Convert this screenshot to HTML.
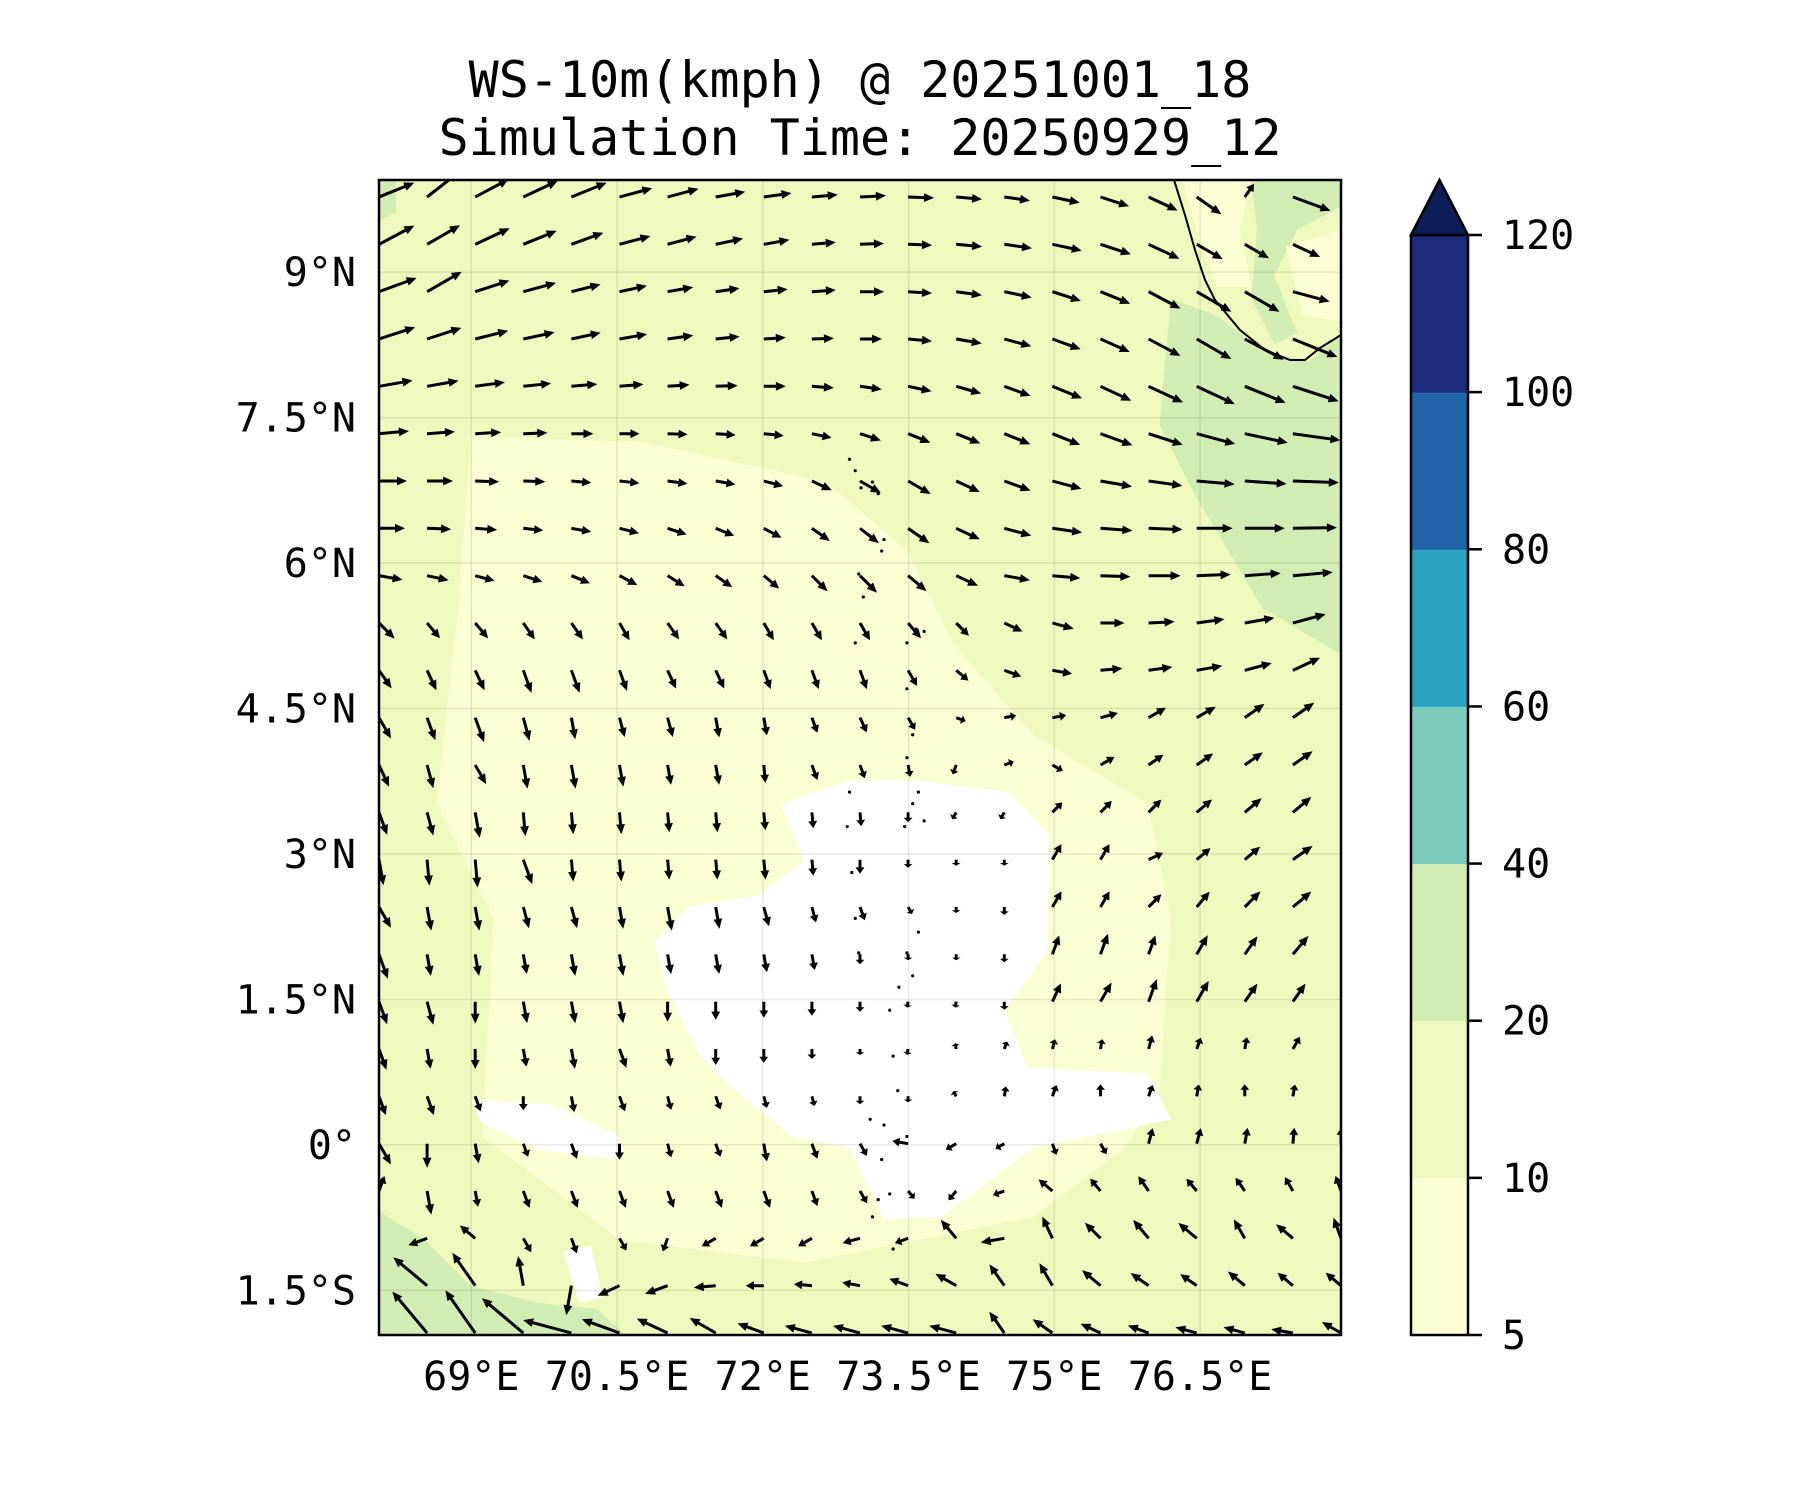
<!DOCTYPE html>
<html><head><meta charset="utf-8"><style>
html,body{margin:0;padding:0;background:#fff;}
svg{display:block;}
text{font-family:"DejaVu Sans Mono","Liberation Mono",monospace;fill:#000;}
</style></head><body>
<svg id="chart" width="1800" height="1500" viewBox="0 0 1800 1500" xmlns="http://www.w3.org/2000/svg">
<rect width="1800" height="1500" fill="#fff"/>
<text x="860" y="97" font-size="50" text-anchor="middle">WS-10m(kmph) @ 20251001_18</text>
<text x="860" y="155" font-size="50" text-anchor="middle">Simulation Time: 20250929_12</text>
<defs><clipPath id="axclip"><rect x="379" y="180" width="962" height="1155"/></clipPath></defs>
<g id="map" clip-path="url(#axclip)">
<rect x="379" y="180" width="962" height="1155" fill="#f0f9bd"/>
<g transform="scale(1.148)">
<path fill="#fbfdd2" d="M410,380 L560,385 L720,420 L790,480 L830,560 L900,640 L1000,700 L1020,800 L1010,950 L980,1000 L900,1060 L700,1100 L540,1080 L420,990 L430,800 L380,700 L400,520 Z"/>
<path fill="#ffffff" d="M680,700 L740,680 L800,680 L880,690 L915,730 L912,830 L875,880 L895,930 L1000,935 L1020,975 L900,1000 L820,1060 L770,1062 L740,1000 L690,990 L640,950 L610,920 L580,860 L570,820 L600,790 L660,780 L700,750 Z"/>
<path fill="#ffffff" d="M410,958 L480,962 L540,990 L535,1010 L470,1002 L420,978 Z"/>
<path fill="#ffffff" d="M490,1090 L515,1085 L525,1130 L505,1135 Z"/>
<path fill="#d2edb3" d="M1020,260 L1060,275 L1100,305 L1140,315 L1168,290 L1168,570 L1100,530 L1070,480 L1040,430 L1010,370 Z"/>
<path fill="#d2edb3" d="M1090,157 L1168,157 L1168,180 L1130,200 L1110,240 L1130,290 L1110,300 L1090,260 L1095,200 Z"/>
<path fill="#fbfdd2" d="M1030,157 L1090,157 L1080,200 L1090,250 L1060,250 L1045,210 Z"/>
<path fill="#fbfdd2" d="M1120,215 L1168,200 L1168,280 L1135,275 Z"/>
<path fill="#d2edb3" d="M330,1055 L370,1080 L410,1120 L470,1135 L520,1140 L545,1163 L330,1163 Z"/>
<path fill="#d2edb3" d="M330,157 L345,157 L345,185 L330,192 Z"/>
</g>
<path fill="none" stroke="#000" stroke-width="2" d="M1174,180 L1185,215 L1195,250 L1205,280 L1215,300 L1240,330 L1265,350 L1290,360 L1305,360 L1320,348 L1341,335"/>
<g id="grid"></g>
<g id="islands"></g>
<g id="arrows"></g>
</g>
<rect x="379" y="180" width="962" height="1155" fill="none" stroke="#000" stroke-width="2.5"/>
<g id="yticks"></g>
<g id="xticks"></g>
<g id="cbar"></g>
</svg>
<script>
const latLabels = ["9°N","7.5°N","6°N","4.5°N","3°N","1.5°N","0°","1.5°S"];
const latValues = [9,7.5,6,4.5,3,1.5,0,-1.5];
const lonLabels = ["69°E","70.5°E","72°E","73.5°E","75°E","76.5°E"];
const lonValues = [69,70.5,72,73.5,75,76.5];
const cbLevels = [5,10,20,40,60,80,100,120];
const cbColors = ["#fbfdd2","#f0f9bd","#d2edb3","#7ccabc","#2ca2c2","#2163a8","#1d2c7f"];
const cbExtColor = "#0b1e58";
// wind direction (deg, 0=east, ccw) per grid row (top to bottom), 21 columns each
const windDir = [
[22,38,28,25,22,15,15,10,8,5,3,-2,-5,-8,-12,-18,-25,-35,55,-20,-10],
[28,30,25,22,20,15,15,12,10,5,2,-2,-5,-8,-12,-18,-25,-30,-30,-25,-20],
[20,30,18,15,14,12,10,8,6,4,0,-4,-8,-12,-18,-22,-28,-30,-30,-15,-10],
[18,18,14,12,12,10,8,6,4,2,0,-5,-10,-15,-20,-24,-28,-30,-28,-22,-10],
[10,10,8,6,5,5,4,2,0,-4,-8,-12,-16,-20,-22,-25,-25,-25,-22,-18,-10],
[5,4,3,2,0,0,-2,-4,-6,-12,-18,-22,-22,-22,-22,-20,-18,-15,-12,-8,-5],
[0,0,-2,-2,-5,-6,-8,-10,-15,-25,-30,-30,-25,-20,-15,-10,-8,-5,-4,-2,0],
[0,-2,-4,-6,-10,-14,-18,-22,-28,-35,-38,-35,-25,-15,-8,-4,-2,0,0,1,2],
[-10,-12,-15,-18,-22,-28,-32,-35,-40,-45,-45,-40,-25,-10,-5,-2,0,2,4,5,8],
[-45,-50,-50,-55,-55,-60,-55,-55,-60,-60,-60,-50,-45,-25,-15,0,3,8,10,15,20],
[-55,-65,-65,-70,-70,-70,-65,-65,-70,-70,-70,-60,-40,-20,-10,5,8,10,15,25,30],
[-60,-70,-70,-75,-80,-75,-75,-80,-80,-70,-65,-60,-20,10,10,15,30,30,35,35,30],
[-65,-75,-60,-80,-80,-80,-80,-80,-85,-70,-70,-80,-110,20,-30,30,35,35,35,35,30],
[-70,-75,-80,-85,-85,-85,-85,-85,-85,-85,-85,-90,-120,-120,45,45,45,40,40,40,40],
[-80,-85,-85,-70,-85,-85,-85,-85,-85,-85,-90,-90,-90,-90,60,60,25,40,40,35,45],
[-60,-80,-80,-75,-75,-80,-80,-80,-75,-75,-70,-60,-90,-90,60,60,45,50,45,40,45],
[-70,-80,-80,-80,-80,-80,-80,-80,-80,-80,-90,-90,-90,-90,70,70,70,60,55,50,45],
[-70,-75,-90,-80,-80,-80,-90,-90,-90,-90,-90,-100,-100,-90,65,60,70,60,55,55,50],
[-70,-80,-90,-80,-80,-70,-80,-90,-90,-90,-90,-100,100,70,75,80,75,70,80,60,60],
[-70,-70,-70,-90,-80,-70,-75,-70,-75,-75,-90,-90,120,80,70,90,70,80,90,80,60],
[-60,-90,-80,-70,-70,-90,-75,-70,-80,-70,-60,170,-150,-150,-70,-60,75,75,80,85,90],
[70,-80,-80,-70,-70,-70,-70,-70,-70,-70,-60,-50,-130,-160,140,130,125,130,125,120,110],
[200,200,140,-60,-70,-60,-110,-150,-150,-150,-165,-160,130,-170,115,135,130,140,120,140,110],
[135,140,125,100,-100,-155,-160,-175,180,175,170,160,150,125,120,140,145,145,140,140,140],
[125,130,125,140,165,160,155,150,160,165,165,165,165,125,145,155,160,165,165,170,150]
];
// wind speed (kmph) per grid row
const windSpd = [
[19,20,19,19,19,17,16,15,14,13,13,13,13,13,14,15,16,15,8,20,15],
[20,19,19,18,17,16,15,14,13,12,12,12,13,14,15,16,17,15,14,15,15],
[20,20,18,17,15,14,13,12,12,12,12,12,13,14,15,16,18,20,20,19,15],
[19,18,17,16,15,14,13,12,11,11,11,12,13,14,15,16,18,20,22,24,15],
[17,16,15,14,13,12,11,11,11,11,11,12,13,14,16,17,19,21,22,24,17],
[15,14,13,12,11,10,10,10,10,10,11,12,13,14,15,17,18,20,22,24,20],
[14,13,12,11,10,10,10,10,10,11,12,13,13,14,15,16,17,19,21,23,20],
[13,12,11,10,10,10,10,10,10,11,12,13,13,14,15,16,17,18,20,22,20],
[12,11,10,10,10,10,10,10,10,11,12,12,12,13,14,15,16,17,18,20,18],
[11,10,10,10,10,10,10,10,10,10,10,10,9,10,11,12,13,14,15,17,15],
[11,11,11,12,12,11,10,10,10,10,10,9,8,9,10,11,12,13,14,15,14],
[12,12,13,12,11,10,10,10,9,8,8,7,5,6,7,9,10,11,12,13,12],
[12,12,11,12,12,11,10,10,9,8,7,6,5,5,6,8,9,10,11,12,12],
[12,12,13,12,11,11,10,10,9,8,7,5,4,4,7,8,9,10,11,12,12],
[13,13,14,13,11,11,10,10,10,8,7,4,3,3,9,9,8,9,10,12,12],
[12,12,12,11,11,11,12,11,10,8,7,4,3,4,9,9,9,10,11,12,12],
[13,11,11,10,11,11,10,10,9,8,5,3,3,4,10,11,10,11,11,12,12],
[12,12,11,11,11,11,10,9,8,7,5,3,3,4,10,11,12,12,11,11,11],
[11,10,10,9,10,10,9,8,7,5,3,3,3,4,5,5,7,6,6,7,7],
[10,10,8,7,8,8,7,7,6,5,4,3,3,5,6,6,6,6,6,6,7],
[12,12,10,7,8,8,7,7,9,8,7,8,6,5,6,6,8,8,8,8,8],
[8,12,8,9,9,9,9,9,9,8,7,5,6,6,9,8,9,8,8,8,8],
[15,10,10,8,8,7,7,8,8,8,9,7,12,12,12,11,12,12,11,11,11],
[23,22,20,15,15,12,12,11,9,9,9,10,12,13,13,12,11,10,11,10,10],
[29,27,26,27,25,20,17,15,14,14,14,14,14,13,12,11,11,11,11,11,11]
];
const islandDots = [[740,400],[745,410],[750,425],[760,420],[765,430],[770,470],[768,480],[748,500],[752,520],[745,560],[790,560],[798,548],[805,550],[790,600],[795,640],[790,660],[800,690],[795,700],[788,720],[805,715],[740,690],[738,720],[742,760],[745,800],[748,830],[790,830],[800,812],[795,850],[783,860],[775,880],[778,920],[782,950],[758,975],[770,980],[790,990],[768,1010],[775,1040],[765,1045],[760,1060],[778,1088]];

const NS="http://www.w3.org/2000/svg";
const X0=379,X1=1341,Y0=180,Y1=1335;
const LON0=68.05,LON1=77.95,LAT0=9.95,LAT1=-1.96;
function xs(lon){return X0+(lon-LON0)/(LON1-LON0)*(X1-X0);}
function ys(lat){return Y0+(lat-LAT0)/(LAT1-LAT0)*(Y1-Y0);}
function mk(tag,attrs,parent){const e=document.createElementNS(NS,tag);for(const k in attrs)e.setAttribute(k,attrs[k]);parent.appendChild(e);return e;}

const grid=document.getElementById('grid');
lonValues.forEach(v=>{const l=mk('line',{x1:xs(v),x2:xs(v),y1:Y0,y2:Y1,stroke:'rgba(0,0,0,0.09)','stroke-width':1.5},grid);

});
latValues.forEach(v=>{const l=mk('line',{x1:X0,x2:X1,y1:ys(v),y2:ys(v),stroke:'rgba(0,0,0,0.09)','stroke-width':1.5},grid);

});

const isl=document.getElementById('islands');
islandDots.forEach(p=>{const c=mk('circle',{cx:p[0]*1.148,cy:p[1]*1.148,r:1.6,fill:'#000'},isl);

});

const arrows=document.getElementById('arrows');
const NR=windDir.length,NC=windDir[0].length;
const gx0=X0,gdx=(X1-X0)/(NC-1),gyTop=197,gyBot=1333,gdy=(gyBot-gyTop)/(NR-1);
const PXK=2.0;
for(let r=0;r<NR;r++){for(let c=0;c<NC;c++){
  const a=windDir[r][c]*Math.PI/180,L=windSpd[r][c]*PXK;
  const x=gx0+c*gdx,y=gyTop+r*gdy;
  const ux=Math.cos(a),uy=-Math.sin(a),px=-uy,py=ux;
  const hl=Math.min(10,L*0.45),hw=4.4,sw=1.5;
  const bx=x+ux*(L-hl),by=y+uy*(L-hl),tx=x+ux*L,ty=y+uy*L;
  const pts=[[x+px*sw,y+py*sw],[bx+px*sw,by+py*sw],[bx+px*hw,by+py*hw],[tx,ty],[bx-px*hw,by-py*hw],[bx-px*sw,by-py*sw],[x-px*sw,y-py*sw]];
  const p=mk('polygon',{points:pts.map(q=>q[0].toFixed(1)+','+q[1].toFixed(1)).join(' '),fill:'#000'},arrows);
  
  
}}

const yt=document.getElementById('yticks');
latLabels.forEach((t,i)=>{const e=mk('text',{x:356,y:ys(latValues[i])+14,'font-size':40,'text-anchor':'end'},yt);e.textContent=t;

});
const xt=document.getElementById('xticks');
lonLabels.forEach((t,i)=>{const e=mk('text',{x:xs(lonValues[i]),y:1390,'font-size':40,'text-anchor':'middle'},xt);e.textContent=t;

});

const cb=document.getElementById('cbar');
const CX0=1411,CX1=1468,CT=235,CB=1335,seg=(CB-CT)/(cbColors.length);
cbColors.forEach((col,i)=>{const r=mk('rect',{x:CX0,y:CB-(i+1)*seg,width:CX1-CX0,height:seg+0.5,fill:col},cb);

});
const tri=mk('polygon',{points:`${CX0},${CT} ${(CX0+CX1)/2},180 ${CX1},${CT}`,fill:cbExtColor,stroke:'#000','stroke-width':2.5,'stroke-linejoin':'miter'},cb);


const fr=mk('rect',{x:CX0,y:CT,width:CX1-CX0,height:CB-CT,fill:'none',stroke:'#000','stroke-width':2.5},cb);


cbLevels.forEach((v,i)=>{const y=CB-i*seg;
 const l=mk('line',{x1:CX1,x2:CX1+14,y1:y,y2:y,stroke:'#000','stroke-width':2.5},cb);
 
 
 const t=mk('text',{x:1502,y:y+14,'font-size':40},cb);t.textContent=String(v);
 
 });
</script>
</body></html>
